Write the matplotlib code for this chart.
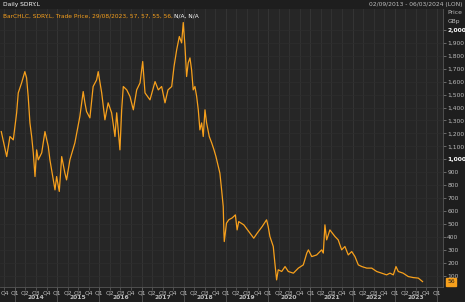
import numpy as np
import matplotlib
matplotlib.use("Agg")
import matplotlib.pyplot as plt
import matplotlib.dates as mdates
from matplotlib.ticker import FixedLocator, FuncFormatter


# daily close (GBp)
DATES = ["2013-09-04", "2013-10-21", "2013-11-18", "2013-12-17", "2014-01-15", "2014-01-29",
         "2014-02-27", "2014-03-27", "2014-04-11", "2014-04-25", "2014-05-10", "2014-05-25",
         "2014-06-08", "2014-06-23", "2014-07-07", "2014-07-21", "2014-08-20", "2014-09-17",
         "2014-10-16", "2014-10-30", "2014-11-28", "2014-12-13", "2014-12-27", "2015-01-19",
         "2015-02-09", "2015-03-08", "2015-03-23", "2015-04-21", "2015-06-03", "2015-07-16",
         "2015-08-14", "2015-08-29", "2015-09-12", "2015-10-11", "2015-11-08", "2015-12-08",
         "2015-12-22", "2016-01-21", "2016-02-18", "2016-03-17", "2016-04-16", "2016-05-15",
         "2016-05-30", "2016-06-27", "2016-07-12", "2016-07-26", "2016-08-25", "2016-09-22",
         "2016-10-21", "2016-11-19", "2016-12-18", "2017-01-10", "2017-01-30", "2017-03-14",
         "2017-04-27", "2017-05-25", "2017-06-23", "2017-07-22", "2017-08-17", "2017-09-18",
         "2017-10-08", "2017-10-31", "2017-11-23", "2017-12-13", "2017-12-27", "2018-01-11",
         "2018-01-25", "2018-02-08", "2018-02-23", "2018-03-09", "2018-03-23", "2018-04-07",
         "2018-04-22", "2018-05-06", "2018-05-20", "2018-06-04", "2018-06-18", "2018-07-03",
         "2018-07-17", "2018-08-09", "2018-08-30", "2018-09-19", "2018-10-06", "2018-11-09",
         "2018-11-24", "2018-12-08", "2018-12-14", "2018-12-17", "2019-01-05", "2019-01-25",
         "2019-02-24", "2019-03-23", "2019-04-07", "2019-04-21", "2019-06-04", "2019-07-17",
         "2019-08-29", "2019-09-28", "2019-11-10", "2019-12-18", "2020-01-01", "2020-01-16",
         "2020-02-14", "2020-02-28", "2020-03-14", "2020-03-28", "2020-04-27", "2020-05-26",
         "2020-06-23", "2020-08-06", "2020-09-18", "2020-10-31", "2020-11-30", "2020-12-14",
         "2021-01-12", "2021-02-24", "2021-04-08", "2021-04-22", "2021-05-06", "2021-05-21",
         "2021-06-18", "2021-08-01", "2021-08-29", "2021-09-28", "2021-10-26", "2021-11-24",
         "2021-12-24", "2022-01-21", "2022-02-19", "2022-03-21", "2022-05-03", "2022-06-15",
         "2022-07-28", "2022-09-09", "2022-10-22", "2022-11-20", "2022-12-19", "2023-01-11",
         "2023-01-31", "2023-03-14", "2023-04-27", "2023-06-09", "2023-07-23", "2023-08-29"]

PRICE = [1214, 1021, 1176, 1150, 1359, 1513,
         1590, 1677, 1629, 1485, 1281, 1176,
         1050, 867, 1073, 996, 1050, 1214,
         1098, 996, 841, 764, 867, 752,
         1021, 896, 841, 996, 1127, 1330,
         1523, 1436, 1369, 1320, 1562, 1613,
         1677, 1513, 1305, 1436, 1359, 1176,
         1359, 1073, 1382, 1562, 1536, 1485,
         1382, 1536, 1590, 1755, 1513, 1459,
         1600, 1536, 1562, 1436, 1536, 1562,
         1716, 1845, 1948, 1899, 2056, 1871,
         1639, 1745, 1783, 1691, 1536, 1562,
         1485, 1382, 1227, 1281, 1176, 1382,
         1281, 1176, 1127, 1073, 1021, 893,
         764, 635, 432, 365, 507, 533,
         548, 571, 455, 519, 494, 442,
         391, 430, 481, 533, 481, 404,
         327, 198, 69, 147, 134, 172,
         134, 121, 160, 185, 276, 301,
         249, 262, 301, 276, 494, 378,
         455, 404, 378, 301, 327, 262,
         288, 249, 185, 172, 160, 160,
         134, 121, 108, 121, 108, 172,
         134, 121, 95, 87, 83, 56]

Y_TICKS = list(range(100, 2001, 100))
YEARS = list(range(2014, 2024))
LAST_PRICE = 56

BG = "#262626"
ORANGE = "#f7a01c"
GRID = "#343434"
TXT = "#bdbdbd"

dates = np.array(DATES, dtype="datetime64[D]")

fig = plt.figure(figsize=(4.65, 3.02), dpi=100, facecolor="#1e1e1e")
ax = fig.add_axes([0.0, 0.05, 0.9527, 0.92])
ax.set_facecolor(BG)

ax.plot(dates, PRICE, color=ORANGE, lw=0.9)

ax.set_xlim(np.datetime64("2013-08-24"), np.datetime64("2024-02-22"))
ax.set_ylim(15, 2160)

# y axis on the right
ax.yaxis.tick_right()
ax.yaxis.set_major_locator(FixedLocator(Y_TICKS))
ax.yaxis.set_major_formatter(FuncFormatter(lambda v, p: f"{int(v):,}"))
ax.tick_params(axis="y", length=2, width=0.5, color="#888888", labelsize=4.3,
               labelcolor=TXT, pad=1)
for lab, v in zip(ax.get_yticklabels(), Y_TICKS):
    if v % 1000 == 0:
        lab.set_color("white")
        lab.set_fontweight("bold")

# x axis: quarters + years
ax.xaxis.set_major_locator(mdates.YearLocator())
ax.xaxis.set_major_formatter(plt.NullFormatter())
ax.xaxis.set_minor_locator(mdates.MonthLocator(bymonth=[1, 4, 7, 10]))
ax.xaxis.set_minor_formatter(FuncFormatter(
    lambda v, p: "Q%d" % ((mdates.num2date(v).month - 1) // 3 + 1)))
ax.xaxis.remove_overlapping_locs = False
ax.tick_params(axis="x", which="major", length=15, width=0.6, color="#555555")
ax.tick_params(axis="x", which="minor", length=2, width=0.5, color="#666666",
               labelsize=4.3, labelcolor=TXT, pad=0.5)

for yr in YEARS:
    ax.annotate(str(yr), xy=(np.datetime64(f"{yr}-07-01"), 0), xycoords=("data", "axes fraction"),
                xytext=(0, -7.6), textcoords="offset points", ha="center", va="center",
                fontsize=4.3, color=TXT, fontweight="bold")

ax.grid(True, which="minor", axis="x", color=GRID, lw=0.6)
ax.grid(True, which="major", axis="x", color="#3a3a3a", lw=0.6)
ax.grid(True, which="major", axis="y", color="#2e2e2e", lw=0.5)
ax.set_axisbelow(True)

for side in ["top", "left"]:
    ax.spines[side].set_visible(False)
ax.spines["right"].set_color("#555555")
ax.spines["right"].set_linewidth(0.6)
ax.spines["bottom"].set_color("#555555")
ax.spines["bottom"].set_linewidth(0.6)

# last price marker
ax.annotate(str(LAST_PRICE), xy=(1.0, LAST_PRICE), xycoords=("axes fraction", "data"),
            xytext=(3, 0), textcoords="offset points", ha="left", va="center",
            fontsize=4.3, color="#1e1e1e",
            bbox=dict(boxstyle="square,pad=0.25", fc=ORANGE, ec=ORANGE))

# header
fig.text(0.006, 0.985, "Daily SDRY.L", color="white", fontsize=4.3, va="center", ha="left")
fig.text(0.995, 0.985, "02/09/2013 - 06/03/2024 (LON)", color=TXT, fontsize=4.3,
         va="center", ha="right")
legend = ax.text(0.006, 0.985, "BarCHLC, SDRY.L, Trade Price, 29/08/2023, 57, 57, 55, 56, ",
                 transform=ax.transAxes, color=ORANGE, fontsize=4.2, va="top", ha="left")
ax.annotate("N/A, N/A", xy=(1, 0), xycoords=legend, va="bottom", ha="left",
            color="white", fontsize=4.2)
fig.text(0.963, 0.958, "Price", color=TXT, fontsize=4.3, va="center", ha="left")
fig.text(0.963, 0.93, "GBp", color=TXT, fontsize=4.3, va="center", ha="left")

fig.savefig("out.png", dpi=100, facecolor=fig.get_facecolor())
